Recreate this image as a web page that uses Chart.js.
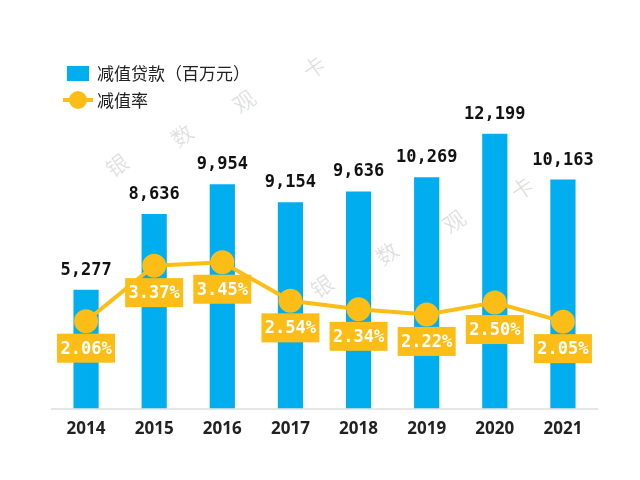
<!DOCTYPE html>
<html><head><meta charset="utf-8">
<script src="https://cdn.jsdelivr.net/npm/chart.js@4"></script>
<style>
body{margin:0;background:#fff;}
#wrap{position:relative;width:640px;height:480px;background:#fff;overflow:hidden;}
#c{position:absolute;left:0;top:0;}
.lg{position:absolute;font-family:"Noto Sans CJK SC";font-size:17px;color:#222;line-height:20px;white-space:nowrap;}
.wm{position:absolute;font-family:"Noto Sans CJK SC";font-size:22px;line-height:22px;color:rgba(0,0,0,0.13);transform:translate(-50%,-50%) rotate(-35deg);}
</style>
</head>
<body>
<div id="wrap">
  <div class="wm" style="left:116px;top:164px">银</div>
  <div class="wm" style="left:181px;top:134px">数</div>
  <div class="wm" style="left:243px;top:100px">观</div>
  <div class="wm" style="left:313px;top:66px">卡</div>
  <div class="wm" style="left:321px;top:285px">银</div>
  <div class="wm" style="left:386px;top:252px">数</div>
  <div class="wm" style="left:453px;top:220px">观</div>
  <div class="wm" style="left:521px;top:187px">卡</div>
  <canvas id="c" width="640" height="480"></canvas>
  <div style="position:absolute;left:67px;top:66px;width:22px;height:15px;background:#00AEEF"></div>
  <div class="lg" style="left:97px;top:63px">减值贷款（百万元）</div>
  <div style="position:absolute;left:63px;top:98px;width:30px;height:4px;background:#FBBD16"></div>
  <div style="position:absolute;left:69px;top:91px;width:18px;height:18px;border-radius:50%;background:#FBBD16"></div>
  <div class="lg" style="left:97px;top:90px">减值率</div>
</div>
<script>
const years = ['2014','2015','2016','2017','2018','2019','2020','2021'];
const loans = [5277, 8636, 9954, 9154, 9636, 10269, 12199, 10163];
const rates = [2.06, 3.37, 3.45, 2.54, 2.34, 2.22, 2.50, 2.05];
const seriesNames = ['减值贷款（百万元）', '减值率'];

const BLUE = '#00AEEF';
const YELLOW = '#FBBD16';

const labelPlugin = {
  id: 'valueLabels',
  afterDatasetsDraw(chart) {
    const ctx = chart.ctx;
    ctx.save();
    ctx.textAlign = 'center';
    ctx.font = 'bold 17px "DejaVu Sans Mono"';
    ctx.fillStyle = '#111';
    ctx.textBaseline = 'alphabetic';
    chart.getDatasetMeta(0).data.forEach((el, i) => {
      ctx.fillText(loans[i].toLocaleString('en-US'), el.x, el.y - 15);
    });
    chart.getDatasetMeta(1).data.forEach((el, i) => {
      const cx = el.x, cy = el.y + 27;
      ctx.fillStyle = YELLOW;
      ctx.fillRect(cx - 29, cy - 14.5, 58, 29);
      ctx.fillStyle = '#fff';
      ctx.textBaseline = 'middle';
      ctx.fillText(rates[i].toFixed(2) + '%', cx, cy + 1);
    });
    ctx.restore();
  }
};

new Chart(document.getElementById('c'), {
  type: 'bar',
  data: {
    labels: years,
    datasets: [
      {
        type: 'bar', label: seriesNames[0], data: loans, yAxisID: 'y',
        backgroundColor: BLUE, categoryPercentage: 1, barPercentage: 0.37, order: 2
      },
      {
        type: 'line', label: seriesNames[1], data: rates, yAxisID: 'y2',
        borderColor: YELLOW, backgroundColor: YELLOW, borderWidth: 4,
        pointRadius: 10, pointBackgroundColor: YELLOW, pointBorderColor: YELLOW,
        tension: 0, order: 1
      }
    ]
  },
  options: {
    responsive: false, animation: false,
    layout: { padding: { left: 52, right: 43, top: 48, bottom: 31 } },
    plugins: { legend: { display: false }, tooltip: { enabled: false } },
    scales: {
      x: {
        grid: { display: false, drawTicks: false },
        border: { display: true, color: '#e6e6e6', width: 2 },
        ticks: { color: '#222', font: { family: 'Noto Sans', size: 17, weight: 'bold' }, padding: 10 }
      },
      y: { display: false, min: 0, max: 16000 },
      y2: { display: false, min: 0, max: 8.5 }
    }
  },
  plugins: [labelPlugin]
});
</script>
</body></html>
